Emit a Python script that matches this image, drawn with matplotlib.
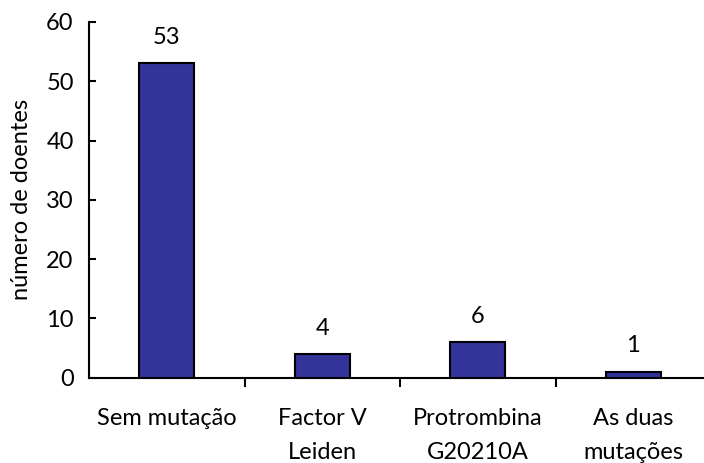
import matplotlib
matplotlib.use("Agg")
import matplotlib.pyplot as plt

categories = ["Sem mutação", "Factor V\nLeiden", "Protrombina\nG20210A", "As duas\nmutações"]
values = [53, 4, 6, 1]
yticks = [0, 10, 20, 30, 40, 50, 60]

plt.rcParams["font.family"] = ["Lato", "DejaVu Sans"]
fs = 17

fig = plt.figure(figsize=(7.04, 4.63), dpi=100)
ax = fig.add_axes([89 / 704, 85.5 / 463, 622 / 704, 355.5 / 463])

x = list(range(len(categories)))
ax.bar(x, values, width=0.355, color="#333399", edgecolor="black", linewidth=1.5, zorder=3)

for xi, v in zip(x, values):
    ax.annotate(str(v), (xi, v), xytext=(0, 11), textcoords="offset points",
                ha="center", va="bottom", fontsize=fs)

ax.set_xlim(-0.5, len(categories) - 0.5)
ax.set_ylim(0, 60)
ax.set_yticks(yticks)
ax.tick_params(axis="y", direction="in", length=5, width=1.5, labelsize=fs, pad=11)

# category boundaries carry the x tick marks; names sit at the centres
ax.set_xticks([i + 0.5 for i in range(len(categories))])
ax.set_xticklabels([])
ax.tick_params(axis="x", direction="out", length=6.5, width=1.5)
for xi, name in zip(x, categories):
    ax.text(xi, -5.15, name, ha="center", va="top", fontsize=fs,
            linespacing=1.75, transform=ax.transData)

ax.set_ylabel("número de doentes", fontsize=fs, labelpad=10)

for side in ("top", "right"):
    ax.spines[side].set_visible(False)
for side in ("left", "bottom"):
    ax.spines[side].set_linewidth(1.5)

fig.savefig("out.png", dpi=100)
